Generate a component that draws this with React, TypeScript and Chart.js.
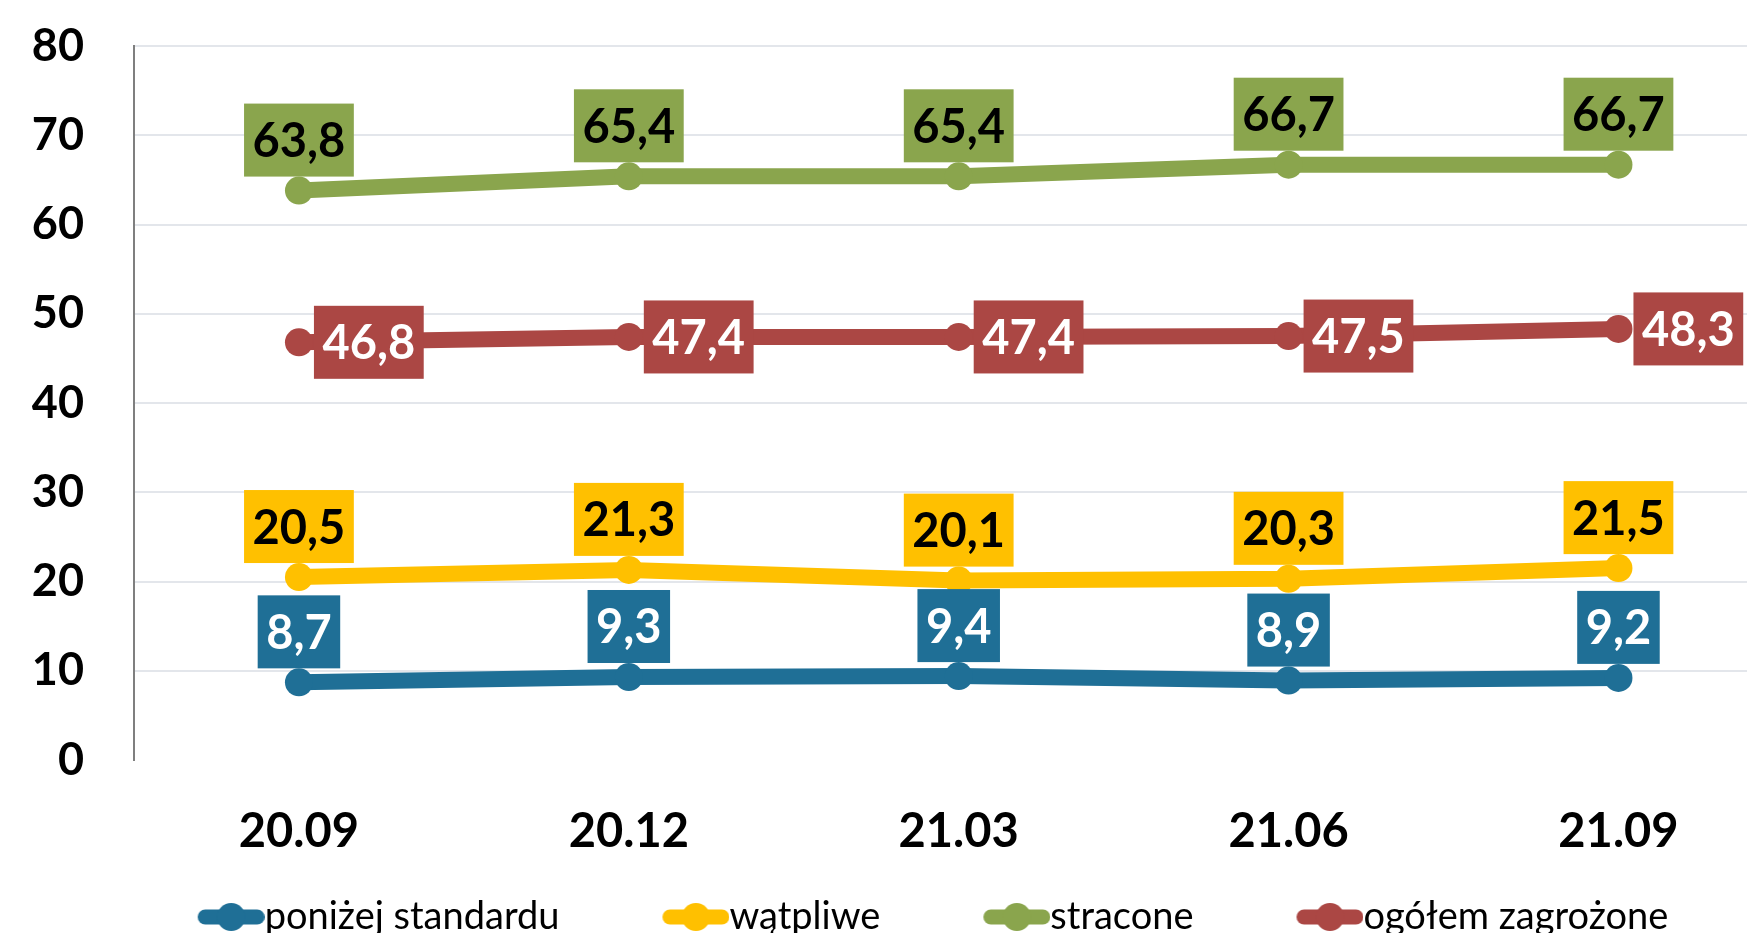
import React, { useEffect, useRef } from 'react';
import { Chart, registerables } from 'chart.js';

Chart.register(...registerables);

const categories = ['20.09', '20.12', '21.03', '21.06', '21.09'];
const seriesLabels = ['poniżej standardu', 'wątpliwe', 'stracone', 'ogółem zagrożone'];
const belowStandard = [8.7, 9.3, 9.4, 8.9, 9.2];
const doubtful = [20.5, 21.3, 20.1, 20.3, 21.5];
const lost = [63.8, 65.4, 65.4, 66.7, 66.7];
const totalAtRisk = [46.8, 47.4, 47.4, 47.5, 48.3];
const yTickValues = [0, 10, 20, 30, 40, 50, 60, 70, 80];

const seriesValues = [belowStandard, doubtful, lost, totalAtRisk];
const colors = ['#1F6F96', '#FFC000', '#8AA54D', '#AB4744'];
const labelTextColors = ['#FFFFFF', '#000000', '#000000', '#FFFFFF'];
const labelPositions = ['above', 'above', 'above', 'right'];

const CANVAS_W = 1804;
const CANVAS_H = 946;
const AXIS_W = 134;
const X_MIN = -0.5;
const X_MAX = 4.52;
const FONT = 'Lato, "Open Sans", sans-serif';

// legend geometry
const LEGEND_FONT = 38;
const LEGEND_PAD = 41;
const LEAD = 62; // extra space before each legend marker
const MARK_W = 67;
const BOX_W = LEAD + MARK_W - LEGEND_FONT / 2;

const valueLabelPlugin = {
  id: 'valueLabels',
  afterDatasetsDraw(chart: any) {
    const ctx = chart.ctx;
    ctx.save();
    ctx.font = `bold 47px ${FONT}`;
    chart.data.datasets.forEach((ds: any, di: number) => {
      const meta = chart.getDatasetMeta(di);
      meta.data.forEach((pt: any, i: number) => {
        const v = ds.data[i].y as number;
        const text = v.toFixed(1).replace('.', ',');
        const tw = ctx.measureText(text).width;
        const w = tw + 17;
        const h = 73;
        let bx: number;
        let by: number;
        if (labelPositions[di] === 'right') {
          bx = pt.x + 15;
          by = pt.y - h / 2;
        } else {
          bx = pt.x - w / 2;
          by = pt.y - 14 - h;
        }
        ctx.fillStyle = colors[di];
        ctx.fillRect(bx, by, w, h);
        ctx.fillStyle = labelTextColors[di];
        ctx.textAlign = 'center';
        ctx.textBaseline = 'alphabetic';
        ctx.fillText(text, bx + w / 2, by + h / 2 + 17);
      });
    });
    ctx.restore();
  },
};

function makeMarker(color: string): HTMLCanvasElement {
  // image is centred at x + BOX_W/2 by Chart.js; marker must span x+LEAD .. x+LEAD+MARK_W
  const half = LEAD + MARK_W - BOX_W / 2;
  const c = document.createElement('canvas');
  c.width = Math.ceil(half * 2);
  c.height = 32;
  const x0 = half - BOX_W / 2 + LEAD; // marker start inside image
  const g = c.getContext('2d')!;
  g.strokeStyle = color;
  g.lineWidth = 15;
  g.lineCap = 'round';
  g.beginPath();
  g.moveTo(x0 + 7.5, 16);
  g.lineTo(x0 + MARK_W - 7.5, 16);
  g.stroke();
  g.fillStyle = color;
  g.beginPath();
  g.arc(x0 + MARK_W / 2, 16, 14, 0, Math.PI * 2);
  g.fill();
  return c;
}

export default function App() {
  const ref = useRef<HTMLCanvasElement | null>(null);

  useEffect(() => {
    if (!ref.current) return;
    Chart.defaults.font.family = FONT;
    const markers = colors.map(makeMarker);
    const chart = new Chart(ref.current, {
      type: 'line',
      data: {
        datasets: seriesValues.map((vals, si) => ({
          label: seriesLabels[si],
          data: vals.map((v, i) => ({ x: i, y: v })),
          borderColor: colors[si],
          backgroundColor: colors[si],
          pointBackgroundColor: colors[si],
          pointBorderWidth: 0,
          pointRadius: 14,
          borderWidth: 16,
          tension: 0,
          fill: false,
        })),
      },
      options: {
        responsive: false,
        animation: false,
        events: [],
        layout: { padding: { top: 46, left: 0, right: 0, bottom: 0 } },
        plugins: {
          tooltip: { enabled: false },
          legend: {
            position: 'bottom',
            labels: {
              usePointStyle: true,
              pointStyleWidth: BOX_W,
              padding: LEGEND_PAD,
              color: '#000000',
              font: { family: FONT, size: LEGEND_FONT, weight: 'normal' },
              generateLabels: (ch: any) =>
                ch.data.datasets.map((ds: any, i: number) => ({
                  text: ds.label,
                  pointStyle: markers[i],
                  fillStyle: colors[i],
                  strokeStyle: colors[i],
                  lineWidth: 0,
                  hidden: false,
                  datasetIndex: i,
                  fontColor: '#000000',
                })),
            },
          },
        },
        scales: {
          x: {
            type: 'linear',
            min: X_MIN,
            max: X_MAX,
            afterBuildTicks: (s: any) => {
              s.ticks = categories.map((_, i) => ({ value: i }));
            },
            afterFit: (s: any) => {
              s.height = 97;
              s.paddingLeft = 0;
              s.paddingRight = 0;
            },
            ticks: {
              callback: (v: any) => categories[v as number] ?? '',
              font: { family: FONT, size: 47, weight: 'bold' },
              color: '#000000',
              padding: 36,
              maxRotation: 0,
              autoSkip: false,
            },
            grid: { display: false },
            border: { display: false },
          },
          y: {
            min: 0,
            max: 80,
            afterBuildTicks: (s: any) => {
              s.ticks = yTickValues.map((v) => ({ value: v }));
            },
            afterFit: (s: any) => {
              s.width = AXIS_W;
              s.paddingTop = 27;
              s.paddingBottom = 27;
            },
            ticks: {
              font: { family: FONT, size: 45, weight: 'bold' },
              color: '#000000',
              padding: 50,
            },
            grid: {
              color: (c: any) => (c.tick && c.tick.value === 0 ? 'rgba(0,0,0,0)' : '#E3E6EB'),
              lineWidth: 2,
              drawTicks: false,
            },
            border: { display: true, color: '#7F7F7F', width: 2 },
          },
        },
      },
      plugins: [valueLabelPlugin],
    } as any);
    return () => chart.destroy();
  }, []);

  return (
    <div
      style={{
        position: 'fixed',
        left: 0,
        top: 0,
        width: 1747,
        height: 933,
        overflow: 'hidden',
        background: '#ffffff',
      }}
    >
      <canvas ref={ref} width={CANVAS_W} height={CANVAS_H} style={{ display: 'block' }} />
    </div>
  );
}
